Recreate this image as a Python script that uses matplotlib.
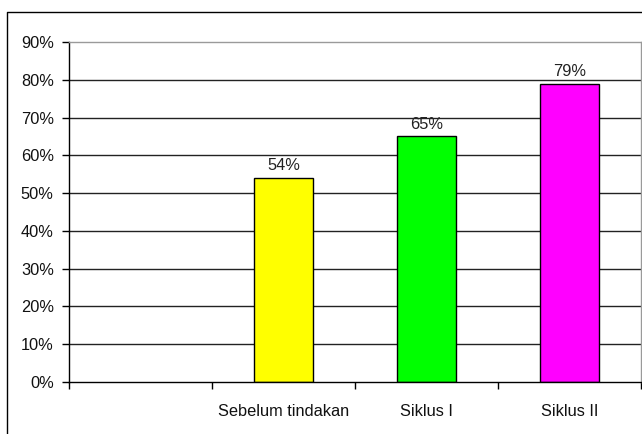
import matplotlib.pyplot as plt
from matplotlib.lines import Line2D
from matplotlib.ticker import FixedLocator

categories = ["", "Sebelum tindakan", "Siklus I", "Siklus II"]
percent = [None, 54, 65, 79]
bar_colors = [None, "#FFFF00", "#00FF00", "#FF00FF"]
y_ticks = [0, 10, 20, 30, 40, 50, 60, 70, 80, 90]

plt.rcParams["font.family"] = ["Liberation Sans", "DejaVu Sans"]
FS = 11.8

fig = plt.figure(figsize=(6.42, 4.34), dpi=100)
ax = fig.add_axes([69 / 642, 1 - 382 / 434, 572 / 642, 340 / 434])

# outer chart frame (left and top edges only show)
fig.add_artist(Line2D([7 / 642, 7 / 642, 1.0], [0.0, 1 - 12 / 434, 1 - 12 / 434],
                      transform=fig.transFigure, color="black", lw=1.0))

for y in y_ticks[1:-1]:
    ax.axhline(y, color="#222222", lw=1.0, zorder=1)

xs = list(range(len(categories)))
for x, v, c in zip(xs, percent, bar_colors):
    if v is None:
        continue
    ax.bar(x, v, width=0.41, color=c, edgecolor="black", linewidth=1.0, zorder=2)
    ax.text(x, v + 1.2, f"{v}%", ha="center", va="bottom", fontsize=FS, color="#222222")

ax.set_xlim(-0.5, len(categories) - 0.5)
ax.set_ylim(0, 90)

ax.set_yticks(y_ticks)
ax.set_yticklabels([f"{t}%" for t in y_ticks])
ax.tick_params(axis="y", direction="out", length=5, width=1, pad=6, labelsize=FS,
               labelcolor="#111111")

ax.set_xticks(xs)
ax.set_xticklabels(categories)
ax.xaxis.set_minor_locator(FixedLocator([x + 0.5 for x in range(-1, len(categories))]))
ax.tick_params(axis="x", which="major", length=0, pad=16, labelsize=FS,
               labelcolor="#111111")
ax.tick_params(axis="x", which="minor", direction="out", length=5, width=1)

ax.spines["left"].set_color("black")
ax.spines["bottom"].set_color("black")
ax.spines["top"].set_color("#9a9a9a")
ax.spines["right"].set_color("#9a9a9a")
for s in ax.spines.values():
    s.set_linewidth(1.0)

fig.savefig("out.png", dpi=100)
